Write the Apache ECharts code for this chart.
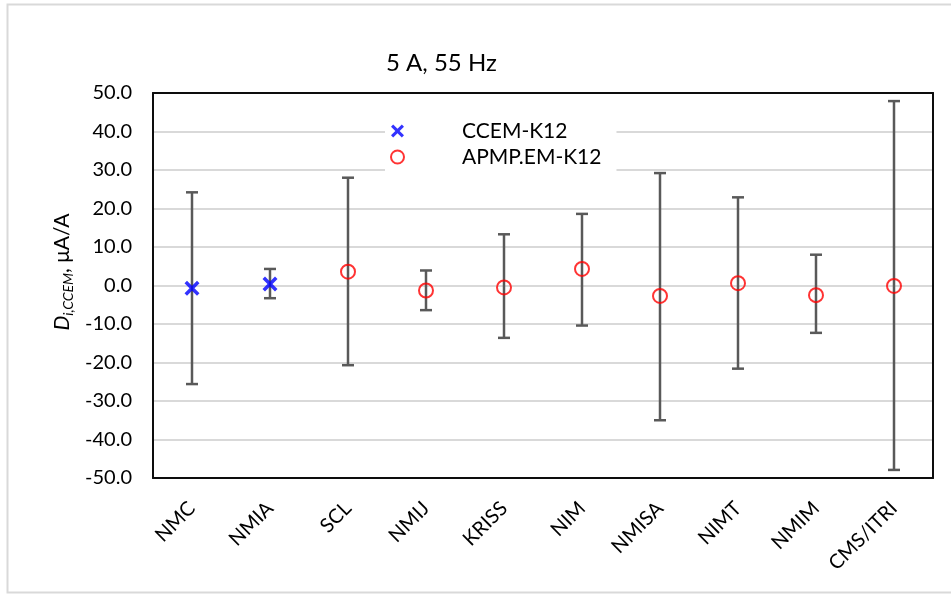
<!DOCTYPE html>
<html>
<head>
<meta charset="utf-8">
<script src="https://cdn.jsdelivr.net/npm/echarts@6/dist/echarts.min.js"></script>
<style>
html,body{margin:0;padding:0;background:#fff;overflow:hidden;}
#chart{width:951px;height:594px;}
</style>
</head>
<body>
<div id="chart"></div>
<script>
const categories = ['NMC','NMIA','SCL','NMIJ','KRISS','NIM','NMISA','NIMT','NMIM','CMS/ITRI'];
const ccemValues = [-0.7, 0.4, '-', '-', '-', '-', '-', '-', '-', '-'];
const apmpValues = ['-', '-', 3.6, -1.3, -0.5, 4.3, -2.7, 0.6, -2.5, -0.1];
const errLow  = [-25.6, -3.3, -20.7, -6.4, -13.6, -10.4, -35.0, -21.6, -12.3, -47.9];
const errHigh = [24.2, 4.3, 28.0, 3.9, 13.3, 18.6, 29.2, 22.9, 8.0, 47.9];
const yTicks = { min: -50, max: 50, interval: 10 };

const FONT = 'Lato';
const xPath = 'path://M0,2 L2,0 L6,4 L10,0 L12,2 L8,6 L12,10 L10,12 L6,8 L2,12 L0,10 L4,6 Z';

const errData = categories.map((c, i) => [i, errLow[i], errHigh[i]]);
const frameLine = { show: true, onZero: false, lineStyle: { color: '#0d0d0d', width: 2 } };

const chart = echarts.init(document.getElementById('chart'), null, {renderer: 'canvas'});
chart.setOption({
  backgroundColor: '#ffffff',
  animation: false,
  title: {
    text: '5 A, 55 Hz',
    left: 381, top: 46,
    textStyle: { fontFamily: FONT, fontSize: 24, fontWeight: 'normal', color: '#000' }
  },
  graphic: [
    {
      type: 'rect', silent: true, z: -10,
      shape: { x: 7.5, y: 4.5, width: 1000, height: 588 },
      style: { fill: 'none', stroke: '#d9d9d9', lineWidth: 2 }
    },
    {
      type: 'text', x: 62, y: 272, rotation: Math.PI / 2,
      style: {
        text: '{d|D}{s|i,CCEM}{n|, μA/A}',
        align: 'center', verticalAlign: 'middle',
        rich: {
          d: { fontFamily: FONT, fontSize: 21, fontStyle: 'italic', color: '#000', lineHeight: 26, verticalAlign: 'middle' },
          s: { fontFamily: FONT, fontSize: 14, fontStyle: 'italic', color: '#000', lineHeight: 26, verticalAlign: 'bottom' },
          n: { fontFamily: FONT, fontSize: 21, color: '#000', lineHeight: 26, verticalAlign: 'middle' }
        }
      }
    }
  ],
  legend: {
    z: 9,
    orient: 'vertical',
    left: 385, top: 112,
    backgroundColor: '#ffffff',
    padding: [7, 15, 20, 5],
    itemWidth: 13, itemHeight: 13,
    itemGap: 2,
    selectedMode: false,
    textStyle: { fontFamily: FONT, fontSize: 21, color: '#000', lineHeight: 24, padding: [0, 0, 0, 53] },
    data: [
      { name: 'CCEM-K12', icon: xPath, itemStyle: { color: '#0000ff', borderWidth: 0 } },
      { name: 'APMP.EM-K12', icon: 'circle', itemStyle: { color: 'rgba(0,0,0,0)', borderColor: '#ff0000', borderWidth: 2 } }
    ]
  },
  grid: {
    left: 153, right: 18, top: 93, bottom: 116,
    show: false
  },
  xAxis: [
    {
      type: 'category',
      data: categories,
      boundaryGap: true,
      axisLine: frameLine,
      axisTick: { show: false },
      axisLabel: { interval: 0, rotate: 45, margin: 27, fontFamily: FONT, fontSize: 20, color: '#000' },
      splitLine: { show: false },
      z: 8
    },
    {
      type: 'category',
      data: categories,
      position: 'top',
      axisLine: frameLine,
      axisTick: { show: false },
      axisLabel: { show: false },
      splitLine: { show: false },
      z: 8
    }
  ],
  yAxis: [
    {
      type: 'value',
      min: yTicks.min, max: yTicks.max, interval: yTicks.interval,
      axisLine: frameLine,
      axisTick: { show: false },
      axisLabel: { margin: 21, fontFamily: FONT, fontSize: 20, color: '#000', formatter: v => v.toFixed(1) },
      splitLine: { show: true, lineStyle: { color: '#d9d9d9', width: 2 } },
      z: 2
    },
    {
      type: 'value',
      position: 'right',
      min: yTicks.min, max: yTicks.max, interval: yTicks.interval,
      axisLine: frameLine,
      axisTick: { show: false },
      axisLabel: { show: false },
      splitLine: { show: false },
      z: 8
    }
  ],
  series: [
    {
      name: 'errorbars',
      type: 'custom',
      z: 5,
      silent: true,
      data: errData,
      encode: { x: 0, y: [1, 2] },
      renderItem: function (params, api) {
        const lo = api.coord([api.value(0), api.value(1)]);
        const hi = api.coord([api.value(0), api.value(2)]);
        const w = 6;
        const st = { stroke: '#595959', lineWidth: 2.5, fill: 'none' };
        return {
          type: 'group',
          children: [
            { type: 'line', shape: { x1: lo[0], y1: lo[1], x2: hi[0], y2: hi[1] }, style: st },
            { type: 'line', shape: { x1: lo[0] - w, y1: lo[1], x2: lo[0] + w, y2: lo[1] }, style: st },
            { type: 'line', shape: { x1: hi[0] - w, y1: hi[1], x2: hi[0] + w, y2: hi[1] }, style: st }
          ]
        };
      }
    },
    {
      name: 'CCEM-K12',
      type: 'scatter',
      z: 7,
      symbol: xPath,
      symbolSize: 15,
      itemStyle: { color: '#0000ff', borderWidth: 0 },
      data: ccemValues
    },
    {
      name: 'APMP.EM-K12',
      type: 'scatter',
      z: 7,
      symbol: 'circle',
      symbolSize: 14,
      itemStyle: { color: 'rgba(0,0,0,0)', borderColor: '#ff0000', borderWidth: 2 },
      data: apmpValues
    }
  ]
});
</script>
</body>
</html>
